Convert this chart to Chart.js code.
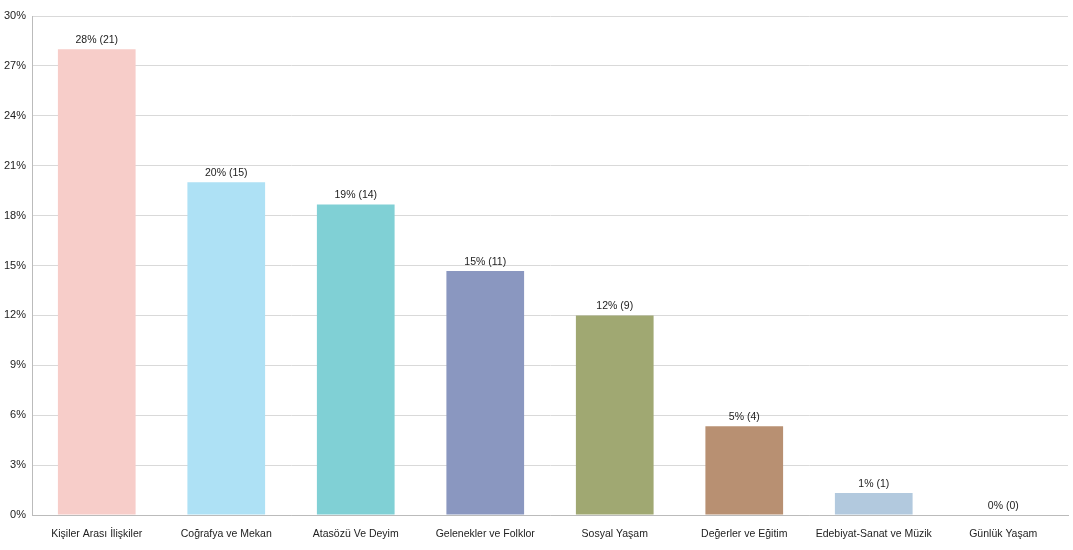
<!DOCTYPE html>
<html>
<head>
<meta charset="utf-8">
<script src="https://cdn.jsdelivr.net/npm/chart.js@4/dist/chart.umd.min.js"></script>
<style>
html,body{margin:0;padding:0;background:#fff;}
#wrap{width:1073px;height:550px;position:relative;}
</style>
</head>
<body>
<div id="wrap"><canvas id="c"></canvas></div>
<script>
const categories = ["Kişiler Arası İlişkiler","Coğrafya ve Mekan","Atasözü Ve Deyim","Gelenekler ve Folklor","Sosyal Yaşam","Değerler ve Eğitim","Edebiyat-Sanat ve Müzik","Günlük Yaşam"];
const percents = [28, 20, 18.67, 14.67, 12, 5.33, 1.33, 0];
const counts = [21, 15, 14, 11, 9, 4, 1, 0];
const barColors = ["#f7cdc9","#aee1f5","#80d0d5","#8a97c0","#a0a872","#b89072","#b2c9de","#cccccc"];
const yTicks = [0,3,6,9,12,15,18,21,24,27,30];

const labelPlugin = {
  id:'barLabels',
  afterDatasetsDraw(chart){
    const ctx = chart.ctx;
    const meta = chart.getDatasetMeta(0);
    ctx.save();
    ctx.font = '10.5px "Liberation Sans", Arial, sans-serif';
    ctx.fillStyle = '#222';
    ctx.textAlign = 'center';
    ctx.textBaseline = 'bottom';
    meta.data.forEach((bar,i)=>{
      const txt = Math.round(percents[i]) + '% (' + counts[i] + ')';
      ctx.fillText(txt, bar.x, bar.y - 4);
    });
    ctx.restore();
  }
};

new Chart(document.getElementById('c'), {
  type:'bar',
  data:{
    labels:categories,
    datasets:[{data:percents, backgroundColor:barColors, borderWidth:0, barPercentage:0.6, categoryPercentage:1}]
  },
  options:{
    responsive:true,
    maintainAspectRatio:false,
    animation:false,
    layout:{padding:{top:16,right:5,left:0,bottom:0}},
    plugins:{legend:{display:false},tooltip:{enabled:false}},
    scales:{
      x:{
        grid:{display:false, drawTicks:false},
        border:{display:true,color:'#bbb',width:1},
        ticks:{font:{size:10.5,family:'"Liberation Sans", Arial, sans-serif'},color:'#222',padding:13,maxRotation:0,autoSkip:false},
        afterFit(s){s.height=35;}
      },
      y:{
        min:0,max:30,
        afterBuildTicks(s){s.ticks = yTicks.map(v=>({value:v}));},
        grid:{color:'#d9d9d9',lineWidth:1,drawTicks:false},
        border:{display:true,color:'#bbb',width:1},
        ticks:{font:{size:11,family:'"Liberation Sans", Arial, sans-serif'},color:'#222',padding:6,callback:v=>v+'%'},
        afterFit(s){s.width=32;}
      }
    }
  },
  plugins:[labelPlugin]
});
</script>
</body>
</html>
